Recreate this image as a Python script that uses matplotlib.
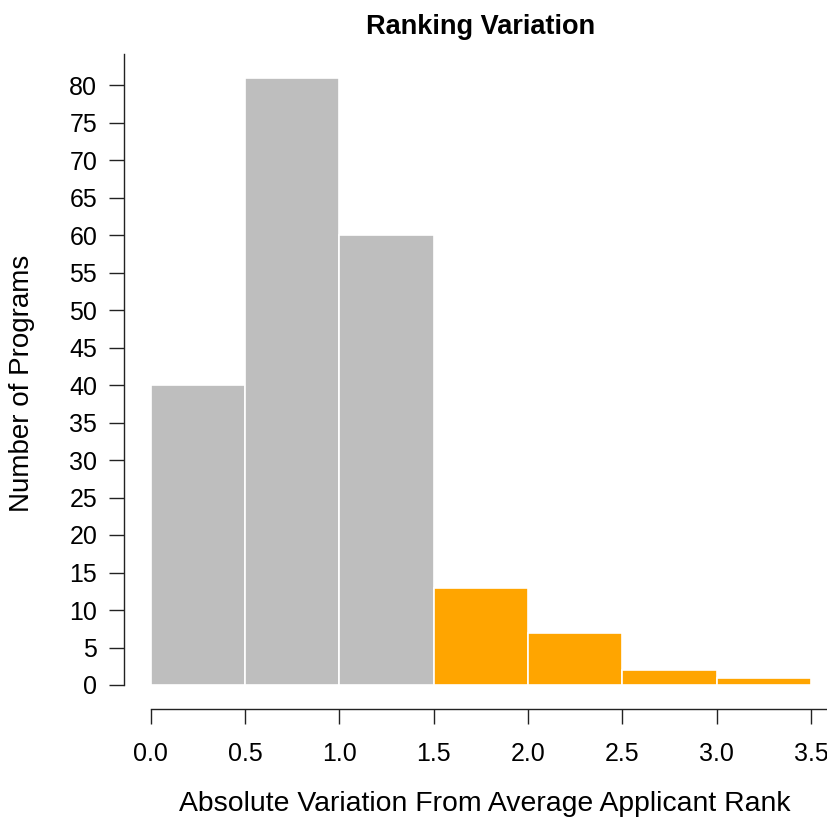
import matplotlib as mpl

mpl.use('Agg')

import matplotlib.pyplot as plt
import numpy as np

# histogram bins and counts
bin_edges = [0.0, 0.5, 1.0, 1.5, 2.0, 2.5, 3.0, 3.5]
counts = [40, 81, 60, 13, 7, 2, 1]
bar_colors = ['#BEBEBE', '#BEBEBE', '#BEBEBE', '#FFA500', '#FFA500', '#FFA500', '#FFA500']

x_ticks = [0.0, 0.5, 1.0, 1.5, 2.0, 2.5, 3.0, 3.5]
y_ticks = list(range(0, 81, 5))

plt.rcParams['font.family'] = ['Liberation Sans', 'DejaVu Sans']

W, H = 827, 823
fig = plt.figure(figsize=(W / 100, H / 100), dpi=100)

# pixel mapping
px_x0, px_per_x = 150.7, 188.7
px_y0, px_per_y = 685.0, 7.5
ax_left_px, ax_bottom_px = 124.0, 709.0
ax_right_px, ax_top_px = 827.0, 40.0

xmin = (ax_left_px - px_x0) / px_per_x
xmax = (ax_right_px - px_x0) / px_per_x
ymin = (px_y0 - ax_bottom_px) / px_per_y
ymax = (px_y0 - ax_top_px) / px_per_y

ax = fig.add_axes([ax_left_px / W, 1 - ax_bottom_px / H,
                   (ax_right_px - ax_left_px) / W, (ax_bottom_px - ax_top_px) / H])
ax.set_xlim(xmin, xmax)
ax.set_ylim(ymin, ymax)

lefts = np.array(bin_edges[:-1])
widths = np.diff(bin_edges)
ax.bar(lefts, counts, width=widths, align='edge', color=bar_colors,
       edgecolor='white', linewidth=1.2)

ax.spines['top'].set_visible(False)
ax.spines['right'].set_visible(False)
ax.spines['left'].set_bounds(0, 84.2)
ax.spines['bottom'].set_bounds(0, xmax)
for s in ('left', 'bottom'):
    ax.spines[s].set_linewidth(1.0)
    ax.spines[s].set_color('#222222')

ax.set_xticks(x_ticks)
ax.set_xticklabels([f'{v:.1f}' for v in x_ticks])
ax.set_yticks(y_ticks)
ax.tick_params(axis='x', length=10.5, width=1.0, pad=13.5, labelsize=18, color='#222222')
ax.tick_params(axis='y', length=10.8, width=1.0, pad=8.5, labelsize=18, color='#222222')

fig.text(481 / W, 1 - 27 / H, 'Ranking Variation', ha='center', va='center',
         fontsize=19.5, fontweight='bold')
fig.text(485 / W, 1 - 804 / H, 'Absolute Variation From Average Applicant Rank',
         ha='center', va='center', fontsize=20.4)
fig.text(22 / W, 1 - 383 / H, 'Number of Programs', ha='center', va='center',
         rotation=90, fontsize=20)

plt.savefig('out.png', dpi=100)
